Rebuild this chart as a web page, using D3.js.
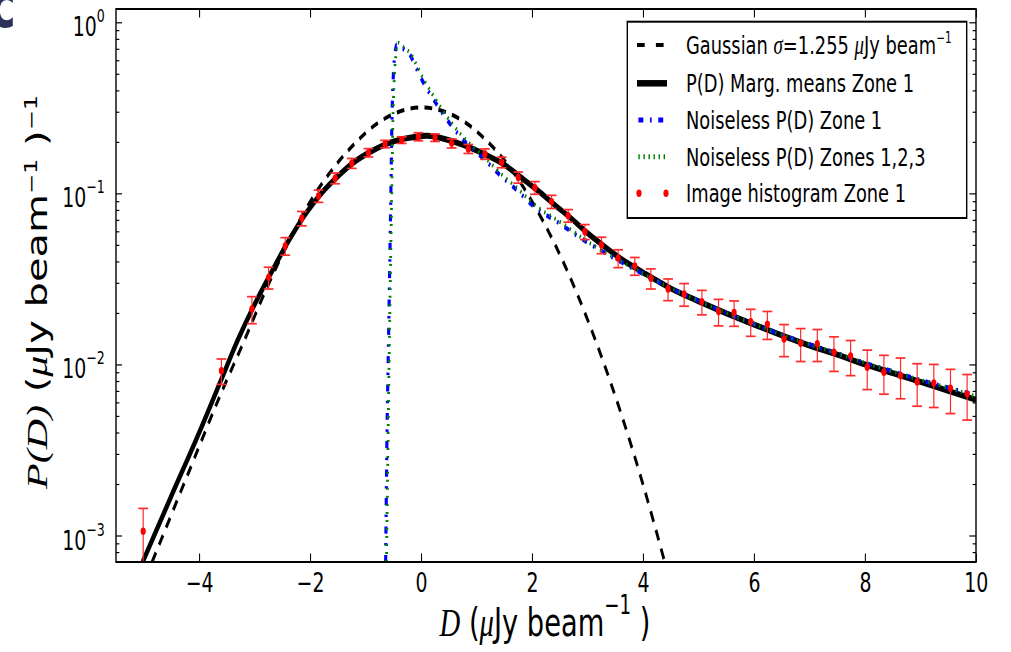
<!DOCTYPE html>
<html lang="en">
<head>
<meta charset="utf-8">
<title>P(D) Zone 1</title>
<style>
body { margin: 0; background: #fff; }
svg { display: block; }
text { font-family: "DejaVu Sans", sans-serif; }
.math { font-family: "Liberation Serif", serif; font-style: italic; }
</style>
</head>
<body>
<div id="chart"></div>
<script src="https://d3js.org/d3.v7.min.js"></script>
<script>

// ---- data ----
const xTicks = [-4, -2, 0, 2, 4, 6, 8, 10];
const yMajor = [1e-3, 1e-2, 1e-1, 1];
const yExp = ["−3", "−2", "−1", "0"];
const yMinor = [8e-4, 9e-4, 2e-3, 3e-3, 4e-3, 5e-3, 6e-3, 7e-3, 8e-3, 9e-3,
  0.02, 0.03, 0.04, 0.05, 0.06, 0.07, 0.08, 0.09, 0.2, 0.3, 0.4, 0.5, 0.6, 0.7, 0.8, 0.9];

const legendLabels = ["Gaussian", "P(D) Marg. means Zone 1", "Noiseless P(D) Zone 1",
  "Noiseless P(D) Zones 1,2,3", "Image histogram Zone 1"];

// Gaussian sigma=1.255 (dashed)
const gaussD = [-4.85, -4.2, -3.58, -3.2, -2.8, -2.4, -2.0, -1.6, -1.2, -0.8, -0.4, 0.0,
  0.4, 0.8, 1.2, 1.6, 2.0, 2.4, 2.8, 3.2, 3.6, 4.0, 4.4];
const gaussP = [7.0e-4, 2.3e-3, 7.1e-3, 0.0135, 0.0272, 0.0512, 0.0894, 0.138, 0.195, 0.255,
  0.300, 0.318, 0.302, 0.259, 0.200, 0.142, 0.0894, 0.0512, 0.0264, 0.0123, 0.0052, 0.00198, 6.8e-4];

// P(D) marginalised means, zone 1 (solid)
const solidD = [-5.02, -4.5, -4.0, -3.6, -3.3, -3.0, -2.7, -2.4, -2.1, -1.8, -1.5, -1.2, -0.9,
  -0.6, -0.3, 0.0, 0.1, 0.3, 0.6, 0.9, 1.2, 1.5, 1.8, 2.1, 2.4, 2.7, 3.0, 3.3, 3.6, 4.0,
  4.5, 5.0, 5.5, 6.0, 6.5, 7.0, 7.5, 8.0, 8.5, 9.0, 9.5, 10.0];
const solidP = [7.0e-4, 1.71e-3, 4.0e-3, 8.2e-3, 0.0140, 0.0225, 0.0345, 0.052, 0.0745, 0.100,
  0.126, 0.153, 0.176, 0.196, 0.209, 0.216, 0.217, 0.213, 0.200, 0.184, 0.166, 0.147, 0.124,
  0.104, 0.086, 0.0715, 0.0585, 0.049, 0.0415, 0.0345, 0.0278, 0.0234, 0.0199, 0.0171,
  0.0148, 0.0129, 0.0114, 0.0100, 0.0089, 0.0079, 0.0070, 0.0062];

// noiseless P(D), zone 1 (blue dash-dot)
const blueD = [-0.64, -0.62, -0.58, -0.546, -0.523, -0.50, -0.47, -0.44, -0.38, -0.3, -0.2,
  -0.1, 0.0, 0.12, 0.25, 0.52, 0.82, 1.12, 1.42, 1.72, 2.02, 2.5, 3.0, 3.5, 4.0, 4.5, 5.0,
  5.5, 6.0, 6.5, 7.0, 7.5, 8.0, 8.5, 9.0, 9.5, 10.0];
const blueP = [7.0e-4, 0.003, 0.02, 0.1, 0.3, 0.5, 0.66, 0.74, 0.72, 0.69, 0.644, 0.55, 0.47,
  0.40, 0.343, 0.255, 0.196, 0.160, 0.128, 0.1047, 0.0845, 0.0665, 0.0515, 0.0415, 0.0338,
  0.0279, 0.0235, 0.0200, 0.0172, 0.0149, 0.0131, 0.0116, 0.0102, 0.0091, 0.0081, 0.0073, 0.0066];

// noiseless P(D), zones 1,2,3 (green dotted)
const greenD = [-0.625, -0.60, -0.565, -0.53, -0.505, -0.48, -0.45, -0.42, -0.36, -0.28, -0.18,
  -0.08, 0.02, 0.14, 0.27, 0.54, 0.84, 1.14, 1.44, 1.74, 2.04, 2.52, 3.0, 3.5, 4.0, 4.5, 5.0,
  5.5, 6.0, 6.5, 7.0, 7.5, 8.0, 8.5, 9.0, 9.5, 10.0];
const greenP = [7.0e-4, 0.003, 0.02, 0.1, 0.3, 0.5, 0.67, 0.76, 0.735, 0.70, 0.65, 0.56, 0.48,
  0.41, 0.35, 0.26, 0.200, 0.163, 0.130, 0.1065, 0.086, 0.0675, 0.0522, 0.0418, 0.0339,
  0.0279, 0.0235, 0.0200, 0.0172, 0.0149, 0.0131, 0.0116, 0.0102, 0.0091, 0.0081, 0.0073, 0.0065];

// image histogram, zone 1 (red points with error bars)
const histD = [-5.01, -3.60, -3.05, -2.75, -2.45, -2.15, -1.85, -1.55, -1.25, -0.95, -0.65,
  -0.35, -0.05, 0.25, 0.55, 0.85, 1.15, 1.45, 1.75, 2.05, 2.35, 2.65, 2.95, 3.25, 3.55, 3.85,
  4.14, 4.45, 4.74, 5.06, 5.36, 5.64, 5.94, 6.24, 6.54, 6.84, 7.14, 7.44, 7.74, 8.04, 8.34,
  8.64, 8.94, 9.24, 9.54, 9.84];
const histP = [1.06e-3, 9.2e-3, 0.0211, 0.0323, 0.0493, 0.0715, 0.0966, 0.1226, 0.150, 0.173,
  0.1944, 0.205, 0.2145, 0.2117, 0.196, 0.182, 0.170, 0.152, 0.124, 0.108, 0.0895, 0.0741,
  0.0597, 0.0499, 0.0418, 0.0377, 0.0319, 0.0276, 0.0258, 0.0233, 0.0204, 0.0201, 0.0178,
  0.0172, 0.0141, 0.0133, 0.0132, 0.0118, 0.0112, 0.00963, 0.0090, 0.0086, 0.0079, 0.0078,
  0.00726, 0.00673];
const histErr = [3.8e-4, 1.56e-3, 3.8e-3, 4.7e-3, 5.8e-3, 6.9e-3, 8.0e-3, 8.8e-3, 0.0100,
  0.0097, 0.0097, 0.0092, 0.0116, 0.0106, 0.0118, 0.0109, 0.0119, 0.0109, 0.0093, 0.0092,
  0.0079, 0.0063, 0.0060, 0.0055, 0.0050, 0.0045, 0.0043, 0.0040, 0.0039, 0.0038, 0.0036,
  0.0034, 0.0032, 0.0032, 0.0030, 0.0029, 0.0028, 0.0027, 0.0026, 0.0025, 0.0023, 0.0023,
  0.0022, 0.0022, 0.0021, 0.0020];

// ---- layout ----
// the original figure is squeezed horizontally, so draw wide and squash with the viewBox
const W = 1011, H = 652, sx = 0.7, VW = W / sx;
function px(v) { return v / sx; }

const pLeft = px(116), pRight = px(976), pTop = 9, pBottom = 562;

const svg = d3.select("#chart").append("svg")
    .attr("width", W)
    .attr("height", H)
    .attr("viewBox", [0, 0, VW, H])
    .attr("preserveAspectRatio", "none");

const x = d3.scaleLinear().domain([-5.5, 10]).range([pLeft, pRight]);
const y = d3.scaleLog().domain([7.0e-4, 1.196]).range([pBottom, pTop]);

svg.append("defs").append("clipPath").attr("id", "plot")
  .append("rect")
    .attr("x", pLeft).attr("y", pTop)
    .attr("width", pRight - pLeft).attr("height", pBottom - pTop);

var line = d3.line()
    .x(function(d) { return x(d[0]); })
    .y(function(d) { return y(d[1]); })
    .curve(d3.curveMonotoneX);

var plot = svg.append("g").attr("clip-path", "url(#plot)");

plot.append("path")
    .attr("d", line(d3.zip(gaussD, gaussP)))
    .attr("fill", "none").attr("stroke", "#000")
    .attr("stroke-width", 4).attr("stroke-dasharray", "11,9");

plot.append("path")
    .attr("d", line(d3.zip(solidD, solidP)))
    .attr("fill", "none").attr("stroke", "#000")
    .attr("stroke-width", 6);

plot.append("path")
    .attr("d", line(d3.zip(blueD, blueP)))
    .attr("fill", "none").attr("stroke", "#0000ff")
    .attr("stroke-width", 4.5).attr("stroke-dasharray", "7,9.5,2.4,9.5");

plot.append("path")
    .attr("d", line(d3.zip(greenD, greenP)))
    .attr("fill", "none").attr("stroke", "#008000")
    .attr("stroke-width", 4).attr("stroke-dasharray", "2,6");

var hist = d3.zip(histD, histP, histErr);
var bars = plot.append("g").attr("stroke", "#ff2a2a").attr("stroke-width", 1.7);

bars.selectAll("line.bar")
  .data(hist)
  .enter().append("line")
    .attr("class", "bar")
    .attr("x1", function(d) { return x(d[0]); })
    .attr("x2", function(d) { return x(d[0]); })
    .attr("y1", function(d) { return y(d[1] + d[2]); })
    .attr("y2", function(d) { return y(Math.max(d[1] - d[2], 1e-5)); });

bars.selectAll("line.capt")
  .data(hist)
  .enter().append("line")
    .attr("class", "capt")
    .attr("x1", function(d) { return x(d[0]) - 7; })
    .attr("x2", function(d) { return x(d[0]) + 7; })
    .attr("y1", function(d) { return y(d[1] + d[2]); })
    .attr("y2", function(d) { return y(d[1] + d[2]); });

bars.selectAll("line.capb")
  .data(hist)
  .enter().append("line")
    .attr("class", "capb")
    .attr("x1", function(d) { return x(d[0]) - 7; })
    .attr("x2", function(d) { return x(d[0]) + 7; })
    .attr("y1", function(d) { return y(Math.max(d[1] - d[2], 1e-5)); })
    .attr("y2", function(d) { return y(Math.max(d[1] - d[2], 1e-5)); });

plot.append("g").selectAll("circle")
  .data(hist)
  .enter().append("circle")
    .attr("cx", function(d) { return x(d[0]); })
    .attr("cy", function(d) { return y(d[1]); })
    .attr("r", 3.7)
    .attr("fill", "#ff0000");

// ---- axes: ticks point inwards on all four sides ----
function styleAxis(g, w) {
  g.select(".domain").remove();
  g.selectAll(".tick line").attr("stroke", "#000").attr("stroke-width", w);
}

svg.append("g")
    .attr("transform", "translate(0," + pBottom + ")")
    .call(d3.axisBottom(x).tickValues(xTicks).tickSizeInner(-8.6).tickSizeOuter(0)
      .tickPadding(11).tickFormat(function(d) { return d < 0 ? "−" + (-d) : d; }))
    .attr("font-size", 27).attr("font-family", "DejaVu Sans, sans-serif")
    .call(styleAxis, 1.5);

svg.append("g")
    .attr("transform", "translate(0," + pTop + ")")
    .call(d3.axisTop(x).tickValues(xTicks).tickSizeInner(-8.6).tickSizeOuter(0).tickFormat(""))
    .call(styleAxis, 1.5);

var yAxis = svg.append("g")
    .attr("transform", "translate(" + pLeft + ",0)")
    .call(d3.axisLeft(y).tickValues(yMajor).tickSizeInner(-8.6).tickSizeOuter(0)
      .tickPadding(16).tickFormat(""))
    .attr("font-size", 27).attr("font-family", "DejaVu Sans, sans-serif")
    .call(styleAxis, 1.2);

yAxis.selectAll(".tick text").each(function(d, i) {
  var t = d3.select(this).attr("dy", "0.5em");
  t.append("tspan").text("10");
  t.append("tspan").attr("font-size", 18).attr("dy", -14).text(yExp[i]);
});

svg.append("g")
    .attr("transform", "translate(" + pLeft + ",0)")
    .call(d3.axisLeft(y).tickValues(yMinor).tickSizeInner(-4.8).tickSizeOuter(0).tickFormat(""))
    .call(styleAxis, 1.2);

svg.append("g")
    .attr("transform", "translate(" + pRight + ",0)")
    .call(d3.axisRight(y).tickValues(yMajor).tickSizeInner(-9.5).tickSizeOuter(0).tickFormat(""))
    .call(styleAxis, 1.2);

svg.append("g")
    .attr("transform", "translate(" + pRight + ",0)")
    .call(d3.axisRight(y).tickValues(yMinor).tickSizeInner(-4.8).tickSizeOuter(0).tickFormat(""))
    .call(styleAxis, 1.2);

svg.append("rect")
    .attr("x", pLeft).attr("y", pTop)
    .attr("width", pRight - pLeft).attr("height", pBottom - pTop)
    .attr("fill", "none").attr("stroke", "#000").attr("stroke-width", 2);

// ---- legend ----
var rows = [45, 83.3, 120, 156.7, 193.3];
var lg = svg.append("g");

lg.append("rect")
    .attr("x", px(627.3)).attr("y", 21.7)
    .attr("width", px(966.7) - px(627.3)).attr("height", 218 - 21.7)
    .attr("fill", "#fff").attr("stroke", "#000").attr("stroke-width", 2);

var s0 = px(637), s1 = px(667);
lg.append("line").attr("x1", s0).attr("x2", s1).attr("y1", rows[0]).attr("y2", rows[0])
    .attr("stroke", "#000").attr("stroke-width", 4).attr("stroke-dasharray", "11,16");
lg.append("line").attr("x1", s0).attr("x2", s1).attr("y1", rows[1]).attr("y2", rows[1])
    .attr("stroke", "#000").attr("stroke-width", 6.5);
lg.append("line").attr("x1", s0 + 2).attr("x2", s1).attr("y1", rows[2]).attr("y2", rows[2])
    .attr("stroke", "#0000ff").attr("stroke-width", 5).attr("stroke-dasharray", "7,9.5,2.4,9.5");
lg.append("line").attr("x1", s0 + 2).attr("x2", s1).attr("y1", rows[3]).attr("y2", rows[3])
    .attr("stroke", "#008000").attr("stroke-width", 5).attr("stroke-dasharray", "2,5.2");
lg.selectAll("circle").data([px(639), px(666)]).enter().append("circle")
    .attr("cx", function(d) { return d; }).attr("cy", rows[4]).attr("r", 3.7).attr("fill", "#ff0000");

var tx = px(686);
var t0 = lg.append("text").attr("x", tx).attr("y", rows[0] + 9.5).attr("font-size", 25.5);
t0.append("tspan").text(legendLabels[0] + " ");
t0.append("tspan").attr("class", "math").attr("font-size", 27).text("σ");
t0.append("tspan").text("=1.255 ");
t0.append("tspan").attr("class", "math").attr("font-size", 27).text("μ");
t0.append("tspan").text("Jy beam");
t0.append("tspan").attr("font-size", 15).attr("dy", -11).text("−1");

for (var i = 1; i < 5; i++) {
  lg.append("text").attr("x", tx).attr("y", rows[i] + 9).attr("font-size", 25.5)
      .text(legendLabels[i]);
}

// ---- axis titles ----
var xl = svg.append("text")
    .attr("x", px(545)).attr("y", 636)
    .attr("text-anchor", "middle").attr("font-size", 39);
xl.append("tspan").attr("class", "math").attr("font-size", 41).text("D");
xl.append("tspan").text(" (");
xl.append("tspan").attr("class", "math").attr("font-size", 41).text("μ");
xl.append("tspan").text("Jy beam");
xl.append("tspan").attr("font-size", 26).attr("dy", -22).text("−1");
xl.append("tspan").attr("dy", 22).text("  )");

var yl = svg.append("text")
    .attr("transform", "translate(" + px(47) + ",292) rotate(-90)")
    .attr("text-anchor", "middle").attr("font-size", 40);
yl.append("tspan").attr("class", "math").attr("font-size", 42).text("P(D)");
yl.append("tspan").text(" (");
yl.append("tspan").attr("class", "math").attr("font-size", 42).text("μ");
yl.append("tspan").text("Jy beam");
yl.append("tspan").attr("font-size", 24).attr("dy", -14).text("−1");
yl.append("tspan").attr("dy", 14).text(" )");
yl.append("tspan").attr("font-size", 24).attr("dy", -14).text("−1");

// cut-off letter of the neighbouring panel, top left corner
svg.append("text")
    .attr("x", px(-10)).attr("y", 27)
    .attr("font-size", 62).attr("font-weight", "bold")
    .attr("fill", "#2a3358")
    .text("c");

</script>
</body>
</html>
